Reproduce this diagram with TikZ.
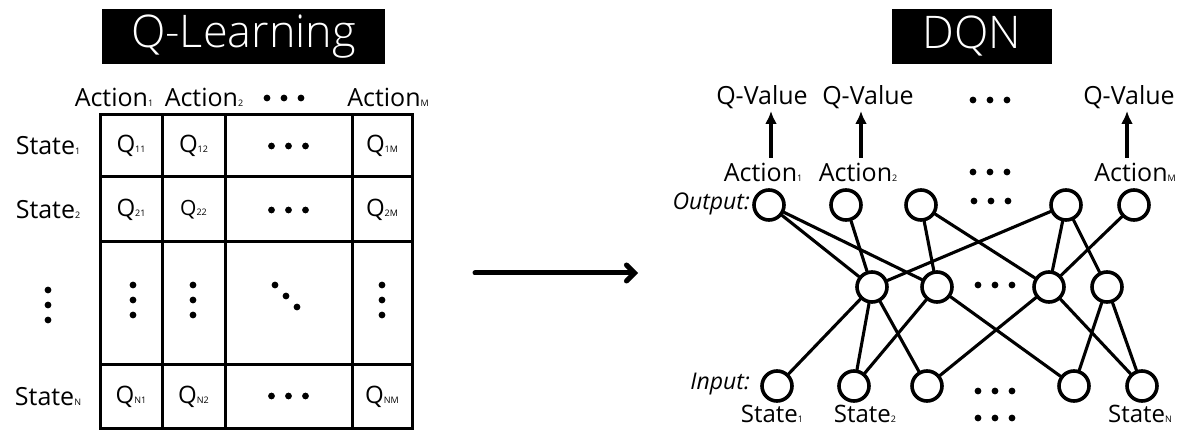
\documentclass[tikz,border=0pt]{standalone}
\usepackage{fontspec}
\setmainfont{Open Sans}
\newfontfamily\titlefont{Open Sans Light}
\usetikzlibrary{arrows.meta}

% small index set on the baseline after a label
\newcommand\lsub[1]{{\fontsize{9}{9}\selectfont #1}}

\tikzset{
  lbl/.style={inner sep=0pt, font=\fontsize{25}{28}\selectfont},
  qtext/.style={font=\fontsize{24}{26}\selectfont},
  layerlbl/.style={inner sep=0pt, anchor=east, font=\fontsize{23}{26}\selectfont\itshape},
  titlebox/.style={fill=black, text=white, inner sep=0pt, minimum height=55pt,
    font=\titlefont\fontsize{45}{48}\selectfont},
  cell/.style={draw=black, line width=3pt, inner sep=0pt, outer sep=0pt},
  neuron/.style={circle, draw=black, line width=3.6pt, minimum size=30pt, inner sep=0pt},
  link/.style={line width=3.1pt, line cap=round},
  qarrow/.style={line width=3.6pt, -{Latex[length=13pt, width=12pt]}},
  bigarrow/.style={line width=5pt, line cap=round, -{Straight Barb[length=8pt, width=16pt, line cap=round]}},
  hdots/.pic={\fill (-17,0) circle (3.4pt) (0,0) circle (3.4pt) (17,0) circle (3.4pt);},
  vdots/.pic={\fill (0,-15) circle (3.4pt) (0,0) circle (3.4pt) (0,15) circle (3.4pt);},
  ddots/.pic={\fill (-11,-11) circle (3.4pt) (0,0) circle (3.4pt) (11,11) circle (3.4pt);},
}

\begin{document}
\begin{tikzpicture}[x=1pt, y=-1pt]
\useasboundingbox (0,0) rectangle (1184,430);

% ---------------- titles ----------------
\node[titlebox, minimum width=283pt] (tql) at (243.5,36.5) {Q-Learning};
\node[titlebox, minimum width=160pt] (tdqn) at (972,36.5) {DQN};

% ---------------- Q-table ----------------
\node[lbl] (act1) at (114,97) {Action\lsub{1}};
\node[lbl] (act2) at (204,97) {Action\lsub{2}};
\pic at (284,98) {hdots};
\node[lbl] (actm) at (388,97) {Action\lsub{M}};

\node[lbl] (st1) at (48,146) {State\lsub{1}};
\node[lbl] (st2) at (48,210) {State\lsub{2}};
\pic at (48,305) {vdots};
\node[lbl] (stn) at (48,397) {State\lsub{N}};

% row 1
\node[cell, qtext, minimum width=62pt,  minimum height=62pt] (c11) at (131,146)   {Q\lsub{11}};
\node[cell, qtext, minimum width=63pt,  minimum height=62pt] (c12) at (193.5,146) {Q\lsub{12}};
\node[cell, minimum width=127pt, minimum height=62pt] (c13) at (288.5,146) {};
\node[cell, qtext, minimum width=60pt,  minimum height=62pt] (c14) at (382,146)   {Q\lsub{1M}};
% row 2
\node[cell, qtext, minimum width=62pt,  minimum height=65pt] (c21) at (131,209.5)   {Q\lsub{21}};
\node[cell, minimum width=63pt,  minimum height=65pt, font=\fontsize{21}{23}\selectfont] (c22) at (193.5,209.5) {Q\lsub{22}};
\node[cell, minimum width=127pt, minimum height=65pt] (c23) at (288.5,209.5) {};
\node[cell, qtext, minimum width=60pt,  minimum height=65pt] (c24) at (382,209.5)   {Q\lsub{2M}};
% row 3 (elided rows)
\node[cell, minimum width=62pt,  minimum height=123pt] (c31) at (131,303.5)   {};
\node[cell, minimum width=63pt,  minimum height=123pt] (c32) at (193.5,303.5) {};
\node[cell, minimum width=127pt, minimum height=123pt] (c33) at (288.5,303.5) {};
\node[cell, minimum width=60pt,  minimum height=123pt] (c34) at (382,303.5)   {};
% row N
\node[cell, qtext, minimum width=62pt,  minimum height=63pt] (c41) at (131,396.5)   {Q\lsub{N1}};
\node[cell, qtext, minimum width=63pt,  minimum height=63pt] (c42) at (193.5,396.5) {Q\lsub{N2}};
\node[cell, minimum width=127pt, minimum height=63pt] (c43) at (288.5,396.5) {};
\node[cell, qtext, minimum width=60pt,  minimum height=63pt] (c44) at (382,396.5)   {Q\lsub{NM}};

\pic at (288.5,146) {hdots};
\pic at (288.5,210) {hdots};
\pic at (288.5,396) {hdots};
\pic at (133,300) {vdots};
\pic at (193,300) {vdots};
\pic at (382,300) {vdots};
\pic at (286,296) {ddots};

% ---------------- transition arrow ----------------
\coordinate (arrs) at (475,273);
\coordinate (arre) at (638,273);
\draw[bigarrow] (arrs) -- (arre);

% ---------------- DQN ----------------
\node[lbl] (qv1) at (762,97)  {Q-Value};
\node[lbl] (qv2) at (868,97)  {Q-Value};
\pic at (990,100) {hdots};
\node[lbl] (qvm) at (1129,97) {Q-Value};

\node[lbl] (oa1) at (763,172)  {Action\lsub{1}};
\node[lbl] (oa2) at (858,172)  {Action\lsub{2}};
\pic at (990,172) {hdots};
\node[lbl] (oam) at (1135,172) {Action\lsub{M}};

\coordinate (qa1) at (771,158);  \coordinate (qb1) at (771,111);
\coordinate (qa2) at (861,158);  \coordinate (qb2) at (861,111);
\coordinate (qam) at (1127,158); \coordinate (qbm) at (1127,111);
\draw[qarrow] (qa1) -- (qb1);
\draw[qarrow] (qa2) -- (qb2);
\draw[qarrow] (qam) -- (qbm);

\node[layerlbl] (outl) at (750,204) {Output:};
\node[layerlbl] (inl)  at (750,384) {Input:};

% output layer
\node[neuron] (o1) at (769,205)  {};
\node[neuron] (o2) at (846,205)  {};
\node[neuron] (o3) at (921,205)  {};
\node[neuron] (o4) at (1066,205) {};
\node[neuron] (o5) at (1134,205) {};
\pic at (991,201) {hdots};

% hidden layer
\node[neuron] (h1) at (872,287)  {};
\node[neuron] (h2) at (937,287)  {};
\node[neuron] (h3) at (1049,287) {};
\node[neuron] (h4) at (1107,287) {};
\pic at (995,285) {hdots};

% input layer
\node[neuron] (i1) at (777,386)  {};
\node[neuron] (i2) at (854,386)  {};
\node[neuron] (i3) at (927,386)  {};
\node[neuron] (i4) at (1074,386) {};
\node[neuron] (i5) at (1142,386) {};
\pic at (995,391) {hdots};

\node[lbl, font=\fontsize{24}{26}\selectfont] (in1) at (772,414)  {State\lsub{1}};
\node[lbl, font=\fontsize{24}{26}\selectfont] (in2) at (865,414)  {State\lsub{2}};
\pic at (995,418) {hdots};
\node[lbl, font=\fontsize{24}{26}\selectfont] (inn) at (1140,414) {State\lsub{N}};

% connections output -- hidden
\draw[link] (o1) -- (h1);
\draw[link] (o1) -- (h2);
\draw[link] (o2) -- (h1);
\draw[link] (o3) -- (h2);
\draw[link] (o3) -- (h3);
\draw[link] (o4) -- (h1);
\draw[link] (o4) -- (h3);
\draw[link] (o4) -- (h4);
\draw[link] (o5) -- (h3);

% connections hidden -- input
\draw[link] (h1) -- (i1);
\draw[link] (h1) -- (i2);
\draw[link] (h1) -- (i3);
\draw[link] (h2) -- (i2);
\draw[link] (h2) -- (i4);
\draw[link] (h3) -- (i3);
\draw[link] (h3) -- (i5);
\draw[link] (h4) -- (i4);
\draw[link] (h4) -- (i5);
\end{tikzpicture}
\end{document}
